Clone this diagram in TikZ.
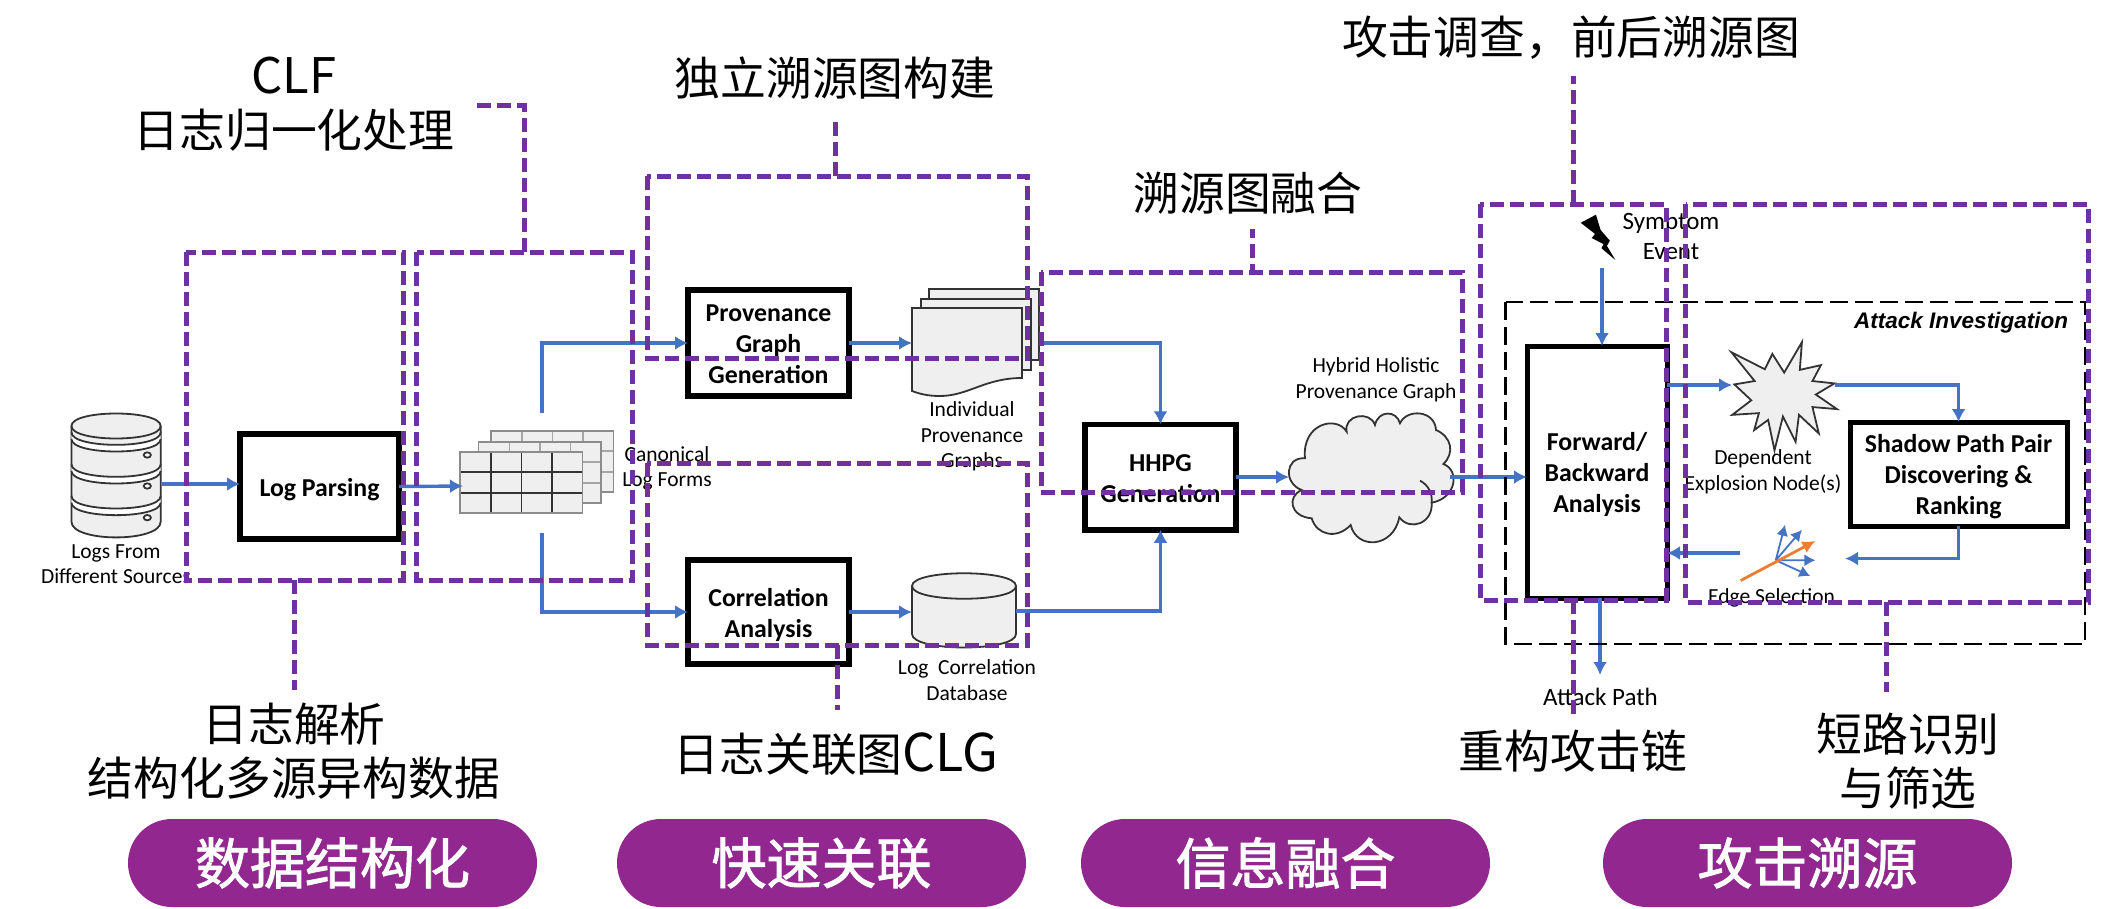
\documentclass[tikz,border=0pt]{standalone}
\usepackage{fontspec}
\setmainfont{Carlito}
\newfontfamily\cjk{Noto Sans CJK SC}
\newfontfamily\cjkm[FakeBold=1.6]{Noto Sans CJK SC}
\newfontfamily\arialf{Liberation Sans}
\usetikzlibrary{arrows.meta}
\definecolor{pur}{HTML}{7030A0}
\definecolor{blu}{HTML}{4472C4}
\definecolor{ora}{HTML}{ED7D31}
\definecolor{pill}{HTML}{92278F}
\definecolor{icong}{HTML}{EFEFEF}
\definecolor{iconl}{HTML}{333333}
\newcommand{\latinbig}[2]{{\fontsize{#1}{54}\selectfont #2}}
\newcommand{\boxtext}[1]{\raisebox{-3.5pt}[\height][\depth]{\begin{tabular}{@{}c@{}}#1\end{tabular}}}
\tikzset{
  procbox/.style={draw=black,line width=#1,fill=white,inner sep=0pt,outer sep=0pt,align=center,font=\fontsize{25.8}{30.8}\selectfont\bfseries},
  procbox/.default=5.5pt,
  small/.style={inner sep=0pt,outer sep=0pt,align=center,font=\fontsize{21.5}{25.6}\selectfont,text=black},
  cjklabel/.style={inner sep=0pt,outer sep=0pt,align=center,font=\cjk\fontsize{45.8}{54}\selectfont,text=black},
  pillbox/.style={fill=pill,text=white,rounded corners=44pt,minimum width=409pt,minimum height=88pt,inner sep=0pt,outer sep=0pt,font=\cjkm\fontsize{55}{60}\selectfont},
  flow/.style={draw=blu,line width=3.4pt,-{Latex[length=13pt,width=14pt]}},
  purbox/.style={draw=pur,line width=5pt,dash pattern=on 14pt off 6pt},
  blackdash/.style={draw=black,line width=2.8pt,dash pattern=on 18pt off 7pt},
  ico/.style={draw=iconl,line width=1.8pt,fill=icong},
}
\begin{document}
\begin{tikzpicture}[x=1pt,y=-1pt,line join=miter]
\useasboundingbox (0,0) rectangle (2122,908);
\fill[white] (0,0) rectangle (2122,908);

% --- database icon
\begin{scope}[shift={(0,380)},xscale=0.4464,yscale=0.3333]
  \draw[ico] (160,138) .. controls (160,88) and (360,88) .. (360,138) -- (360,425) .. controls (360,488) and (160,488) .. (160,425) -- cycle;
  \foreach \yy in {157,253,348}{
    \fill[white] (160,\yy) .. controls (160,\yy+50) and (360,\yy+50) .. (360,\yy) -- (360,\yy+20) .. controls (360,\yy+70) and (160,\yy+70) .. (160,\yy+20) -- cycle;
    \draw[iconl,line width=1.8pt] (160,\yy) .. controls (160,\yy+50) and (360,\yy+50) .. (360,\yy);
    \draw[iconl,line width=1.8pt] (160,\yy+20) .. controls (160,\yy+70) and (360,\yy+70) .. (360,\yy+20);
  }
  \draw[iconl,line width=1.8pt] (160,138) .. controls (160,188) and (360,188) .. (360,138);
  \foreach \yy in {225,318,413}{\draw[iconl,line width=1.8pt,fill=white] (330,\yy) circle [radius=8];}
\end{scope}
\coordinate (dbE) at (162,484);
\node[small] (logsrc) at (116,564) {Logs From\\Different Sources};

% --- process boxes
\node[procbox,minimum width=159pt,minimum height=105pt] (logparse) at (319.5,486.5) {\boxtext{Log Parsing}};
\node[procbox,minimum width=161pt,minimum height=106pt] (prov) at (768.5,343) {\boxtext{Provenance\\Graph\\Generation}};
\node[procbox,minimum width=161pt,minimum height=104pt] (corr) at (768.5,612) {\boxtext{Correlation\\Analysis}};
\node[procbox,minimum width=151pt,minimum height=105.5pt] (hhpg) at (1160.5,477) {\boxtext{HHPG\\Generation}};
\node[procbox=5pt,minimum width=140pt,minimum height=252pt] (fwd) at (1597,472) {\boxtext{Forward/\\Backward\\Analysis}};
\node[procbox=5pt,minimum width=217pt,minimum height=104pt] (shadow) at (1958.5,474) {\boxtext{Shadow Path Pair\\Discovering \&\\Ranking}};

% --- canonical log tables
\foreach \dx/\dy/\c in {31/-21/A6A6A6,18.6/-10/A6A6A6,0/0/333333}{
  \begin{scope}[shift={(\dx,\dy)}]
    \definecolor{tbl}{HTML}{\c}
    \fill[icong] (460,452) rectangle (582.6,513);
    \draw[tbl,line width=1.4pt] (460,472) -- (582.6,472) (460,493) -- (582.6,493) (491,452) -- (491,513) (521.5,452) -- (521.5,513) (552,452) -- (552,513);
    \draw[black!45,line width=1.6pt] (460,452) rectangle (582.6,513);
  \end{scope}
}
\coordinate (tblW) at (463,486);
\coordinate (tblN) at (542,413);
\coordinate (tblS) at (542,533);
\node[small] (canon) at (667,468.5) {Canonical\\Log Forms};

% --- provenance documents
\draw[ico] (929,289) -- (1039,289) -- (1039,360) -- (1020,360) -- (929,370) -- cycle;
\draw[ico] (921,299) -- (1031,299) -- (1031,370) -- (1015,370) -- (921,380) -- cycle;
\draw[ico] (912,308) -- (1022,308) -- (1022,378) .. controls (985,378) and (968,396) .. (940,396) .. controls (928,396) and (920,394) .. (912,391) -- cycle;
\coordinate (docW) at (912,343);
\coordinate (docE) at (1041,343);
\node[small] (indiv) at (972,436.5) {Individual\\Provenance\\Graphs};

% --- correlation database
\draw[ico] (912,586) .. controls (912,569) and (1016,569) .. (1016,586) -- (1016,634) .. controls (1016,652) and (912,652) .. (912,634) -- cycle;
\draw[iconl,line width=1.8pt] (912,586) .. controls (912,603) and (1016,603) .. (1016,586);
\coordinate (cdbW) at (912,612);
\coordinate (cdbE) at (1016,611);
\node[small] (cdblabel) at (967,680) {Log\ \ Correlation\\Database};

% --- cloud
\begin{scope}[shift={(1060,260)},xscale=0.3333,yscale=0.3333]
  \draw[ico] (735,595) .. controls (725,490) and (830,465) .. (860,515)
    .. controls (850,465) and (930,450) .. (945,495)
    .. controls (955,450) and (1010,450) .. (1020,490)
    .. controls (1040,445) and (1125,450) .. (1128,510)
    .. controls (1175,530) and (1185,580) .. (1150,612)
    .. controls (1200,630) and (1190,715) .. (1115,728)
    .. controls (1120,790) and (1050,815) .. (1018,772)
    .. controls (1000,865) and (890,870) .. (872,795)
    .. controls (830,840) and (770,825) .. (755,775)
    .. controls (690,770) and (680,710) .. (725,690)
    .. controls (670,670) and (675,590) .. (735,595) -- cycle;
  \draw[iconl,line width=1.8pt] (1080,662) .. controls (1105,675) and (1118,700) .. (1115,728);
\end{scope}
\coordinate (cloudW) at (1289,477);
\coordinate (cloudE) at (1450,477);
\node[small] (cloudlabel) at (1376,380) {Hybrid Holistic\\Provenance Graph};

% --- attack investigation icons
\begin{scope}[shift={(1460,190)},xscale=0.4221,yscale=0.3381]
  \fill[black] (286,97) -- (322,73) -- (333,118) -- (355,150) -- (348,165) -- (368,207) -- (335,172) -- (340,160) -- (312,142) -- (320,130) -- cycle;
  \draw[ico] (643,480) -- (722,530) -- (740,485) -- (768,540) -- (810,450) -- (805,532) -- (855,518) -- (835,565) -- (887,572) -- (843,605) -- (893,648) -- (835,642) -- (850,720) -- (803,665) -- (795,745) -- (765,670) -- (745,770) -- (730,680) -- (697,710) -- (708,660) -- (645,665) -- (690,622) -- (650,575) -- (698,565) -- cycle;
  \coordinate (edgeO) at (748,1095);
  \foreach \tx/\ty in {770/990,810/1005,842/1095,830/1142}{
    \draw[blu,line width=1.8pt,-{Latex[length=11pt,width=12pt]}] (edgeO) -- (\tx,\ty);
  }
  \draw[ora,line width=2.8pt,-{Latex[length=13pt,width=13pt]}] (665,1155) -- (842,1038);
\end{scope}
\coordinate (symTop) at (1602,268);
\coordinate (burstW) at (1732,385);
\coordinate (burstE) at (1835,385);
\coordinate (edgeE) at (1845,558.5);
\coordinate (edgeW) at (1740,553);
\coordinate (atkEnd) at (1600,675);

\node[small,font=\fontsize{25}{30.5}\selectfont] (symptom) at (1671,236.5) {Symptom\\Event};
\node[small] (depnode) at (1763,472) {Dependent\\Explosion Node(s)};
\node[small] (edgesel) at (1771.5,598) {Edge Selection};
\node[small,font=\fontsize{25}{30}\selectfont] (atkpath) at (1600.5,697) {Attack Path};
\node[inner sep=0pt,outer sep=0pt,font=\arialf\bfseries\itshape\fontsize{22.5}{24}\selectfont,anchor=east] (attinv) at (2068,323) {Attack Investigation};

% --- connectors
\draw[flow] (dbE) -- (logparse.west |- dbE);
\draw[flow] (logparse.east) -- (tblW);
\draw[flow] (tblN) |- (prov.west);
\draw[flow] (tblS) |- (corr.west);
\draw[flow] (prov.east) -- (docW);
\draw[flow] (corr.east) -- (cdbW);
\draw[flow] (docE) -| (hhpg.north);
\draw[flow] (cdbE) -| (hhpg.south);
\draw[flow] (hhpg.east) -- (cloudW);
\draw[flow] (cloudE) -- (fwd.west |- cloudE);
\draw[flow] (symTop) -- (symTop |- fwd.north);
\draw[flow] (fwd.east |- burstW) -- (burstW);
\draw[flow] (burstE) -| (shadow.north);
\draw[flow] (shadow.south) |- (edgeE);
\draw[flow] (edgeW) -- (fwd.east |- edgeW);
\draw[flow] (atkEnd |- fwd.south) -- (atkEnd);

% --- black dashed frame
\draw[blackdash] (1505.6,302) rectangle (2085,644);

% --- purple annotation frames
\coordinate (p1a) at (186,252); \coordinate (p1b) at (403,580);
\coordinate (p2a) at (416.5,252); \coordinate (p2b) at (632,580);
\coordinate (p3a) at (647,176); \coordinate (p3b) at (1027,358);
\coordinate (p4a) at (647,463); \coordinate (p4b) at (1027,645);
\coordinate (p5a) at (1041,272); \coordinate (p5b) at (1462,492);
\coordinate (p6a) at (1480,204); \coordinate (p6b) at (1666,600);
\coordinate (p7a) at (1685.5,204); \coordinate (p7b) at (2088,602);
\foreach \n in {1,...,7}{\draw[purbox] (p\n a) rectangle (p\n b);}
\draw[purbox] (294,580) -- (294,690);
\draw[purbox] (524,252) -- (524,105) -- (476,105);
\draw[purbox] (835,176) -- (835,116);
\draw[purbox] (837,645) -- (837,710);
\draw[purbox,dash pattern=on 14pt off 0pt] (1252,272) -- (1252,264);
\draw[purbox] (1252,258) -- (1252,229);
\draw[purbox] (1573,204) -- (1573,76);
\draw[purbox] (1573,600) -- (1573,717);
\draw[purbox] (1886,602) -- (1886,692);

% --- Chinese annotations
\node[cjklabel] (c1) at (294,104) {\latinbig{49}{CLF}\\日志归一化处理};
\node[cjklabel] (c2) at (835,78) {独立溯源图构建};
\node[cjklabel] (c3) at (1571,38) {攻击调查，前后溯源图};
\node[cjklabel] (c4) at (1248,193) {溯源图融合};
\node[cjklabel] (c5) at (294,751) {日志解析\\结构化多源异构数据};
\node[cjklabel] (c6) at (836,754) {日志关联图\latinbig{52}{CLG}};
\node[cjklabel] (c7) at (1573,751) {重构攻击链};
\node[cjklabel] (c8) at (1908,761) {短路识别\\与筛选};

% --- phase pills
\node[pillbox] (ph1) at (332.5,863) {数据结构化};
\node[pillbox] (ph2) at (821.5,863) {快速关联};
\node[pillbox] (ph3) at (1285.5,863) {信息融合};
\node[pillbox] (ph4) at (1807.5,863) {攻击溯源};
\end{tikzpicture}
\end{document}
